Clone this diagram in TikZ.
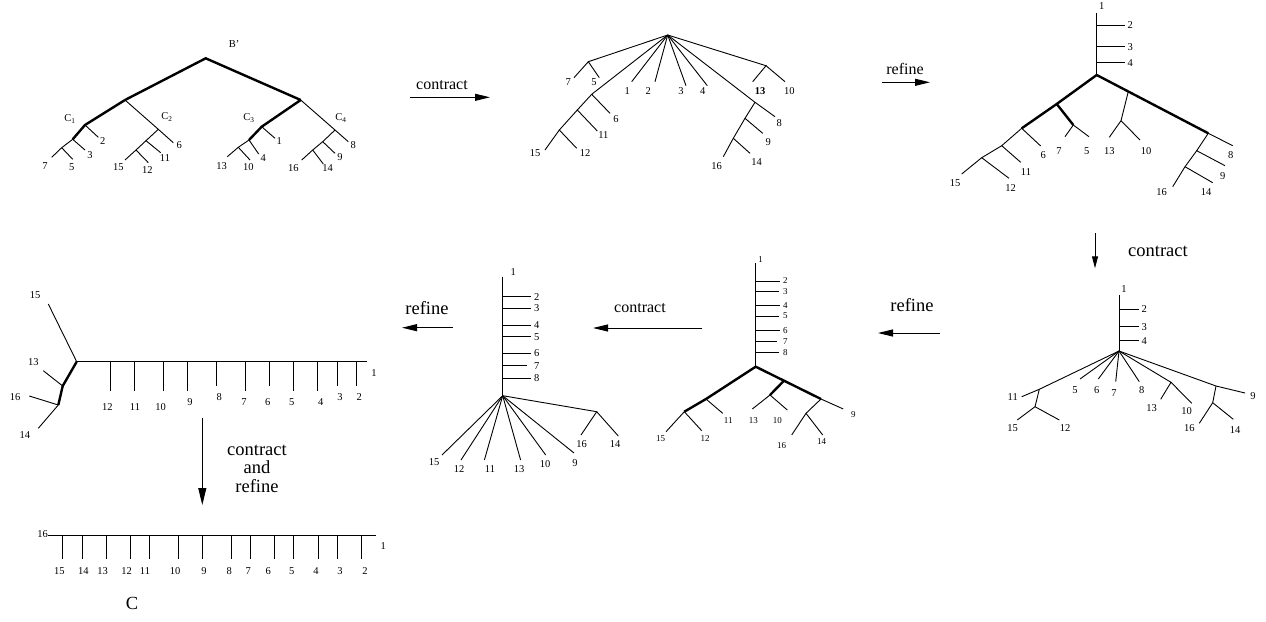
\documentclass[tikz,border=0pt]{standalone}
\usepackage{fontspec}
\setmainfont{Liberation Serif}
\usetikzlibrary{arrows.meta}

\begin{document}
\begin{tikzpicture}
[x=1pt,y=-1pt
,le/.style={line width=0.9pt}
,he/.style={line width=2.4pt}
,lab/.style={inner sep=0pt,font=\fontsize{10.5}{12}\selectfont}
,slab/.style={lab,font=\fontsize{9}{11}\selectfont}
,op/.style={line width=1pt,arrows={-Triangle[length=15pt,width=7pt]}}
,opt/.style={inner sep=0pt,font=\fontsize{16}{19}\selectfont}
,bopt/.style={opt,font=\fontsize{18.5}{19}\selectfont}
]
\useasboundingbox (0,0) rectangle (1266,621);

% tree B'
\coordinate (b0) at (205.7,58.3);
\coordinate (b1) at (125,100);
\coordinate (b2) at (300.7,100);
\coordinate (bc1) at (85,125);
\coordinate (bc2) at (158.3,129.3);
\coordinate (bc3) at (261.7,126.7);
\coordinate (bc4) at (335,130);
\coordinate (b3) at (72.7,139.3);
\coordinate (b4) at (61.7,147.7);
\coordinate (b5) at (146,140.7);
\coordinate (b6) at (136,150);
\coordinate (b7) at (249,140);
\coordinate (b8) at (238.3,147.3);
\coordinate (b9) at (322.7,141.7);
\coordinate (b10) at (312.7,150);
\coordinate (be1) at (275,138.3);
\coordinate (be2) at (98.3,137.3);
\coordinate (be3) at (85,150);
\coordinate (be4) at (258.7,154);
\coordinate (be5) at (72.7,159.3);
\coordinate (be6) at (173.3,142.7);
\coordinate (be7) at (51.7,157.3);
\coordinate (be8) at (348.3,141.7);
\coordinate (be9) at (335,153.3);
\coordinate (be10) at (250,160);
\coordinate (be11) at (160.7,152.7);
\coordinate (be12) at (148.3,162.7);
\coordinate (be13) at (227.3,156.7);
\coordinate (be14) at (323.3,164);
\coordinate (be15) at (125,160);
\coordinate (be16) at (301.7,160);
\node[lab] (bb) at (234,44) {B'};
\node[lab] (bn1) at (70,119) {C\textsubscript{1}};
\node[lab] (bn2) at (167,117) {C\textsubscript{2}};
\node[lab] (bn3) at (249,118) {C\textsubscript{3}};
\node[lab] (bn4) at (341,118) {C\textsubscript{4}};
\node[lab] (bl1) at (279.3,140.7) {1};
\node[lab] (bl2) at (102.7,140.7) {2};
\node[lab] (bl3) at (90,155) {3};
\node[lab] (bl4) at (263.3,157.7) {4};
\node[lab] (bl5) at (71.7,166.7) {5};
\node[lab] (bl6) at (179.3,145) {6};
\node[lab] (bl7) at (45,166) {7};
\node[lab] (bl8) at (353.3,145) {8};
\node[lab] (bl9) at (340,157.3) {9};
\node[lab] (bl10) at (248.3,167.3) {10};
\node[lab] (bl11) at (165,157.7) {11};
\node[lab] (bl12) at (147.3,170) {12};
\node[lab] (bl13) at (221.7,166) {13};
\node[lab] (bl14) at (327.7,168.3) {14};
\node[lab] (bl15) at (118.3,167.3) {15};
\node[lab] (bl16) at (293.3,168.3) {16};

\draw[he] (b1) -- (b0) -- (b2);
\draw[he] (b1) -- (bc1) -- (b3);
\draw[he] (b2) -- (bc3) -- (b7);
\draw[le] (b1) -- (bc2) -- (be6);
\draw[le] (b2) -- (bc4) -- (be8);
\draw[le] (bc1) -- (be2);
\draw[le] (b3) -- (be3);
\draw[le] (b3) -- (b4) -- (be7);
\draw[le] (b4) -- (be5);
\draw[le] (bc2) -- (b5) -- (be11);
\draw[le] (b5) -- (b6) -- (be15);
\draw[le] (b6) -- (be12);
\draw[le] (bc3) -- (be1);
\draw[le] (b7) -- (be4);
\draw[le] (b7) -- (b8) -- (be13);
\draw[le] (b8) -- (be10);
\draw[le] (bc4) -- (b9) -- (be9);
\draw[le] (b9) -- (b10) -- (be16);
\draw[le] (b10) -- (be14);

% contract
\coordinate (oa1) at (410,97.3);
\coordinate (ob1) at (490,97.3);
\draw[op] (oa1) -- (ob1);
\node[opt] (ot1) at (442,85) {contract};

% tree after contract
\coordinate (r0) at (667.7,35);
\coordinate (r1) at (588.3,61.7);
\coordinate (r2) at (591.7,94.3);
\coordinate (r3) at (577.3,110);
\coordinate (r4) at (559.3,130);
\coordinate (r5) at (766,65.7);
\coordinate (r6) at (755,102.3);
\coordinate (r7) at (745,118.3);
\coordinate (r8) at (733.3,138.3);
\coordinate (re1) at (631.7,81.7);
\coordinate (re2) at (655,81.7);
\coordinate (re3) at (686,85.7);
\coordinate (re4) at (707.3,85.7);
\coordinate (re5) at (599.3,77.7);
\coordinate (re6) at (610,113.3);
\coordinate (re7) at (574,77.7);
\coordinate (re8) at (775,116.7);
\coordinate (re9) at (762.7,133.3);
\coordinate (re10) at (785,81.7);
\coordinate (re11) at (597.3,131);
\coordinate (re12) at (576.7,148.3);
\coordinate (re13) at (752.7,81.7);
\coordinate (re14) at (750,153.3);
\coordinate (re15) at (545,150);
\coordinate (re16) at (723.3,156.7);
\node[lab] (rl1) at (627.3,91) {1};
\node[lab] (rl2) at (648.3,91) {2};
\node[lab] (rl3) at (681,91) {3};
\node[lab] (rl4) at (702.7,91) {4};
\node[lab] (rl5) at (594,82.3) {5};
\node[lab] (rl6) at (616,119) {6};
\node[lab] (rl7) at (568.3,82.3) {7};
\node[lab] (rl8) at (779.3,123.3) {8};
\node[lab] (rl9) at (768.3,142.3) {9};
\node[lab] (rl10) at (789.3,91) {10};
\node[lab] (rl11) at (603.3,135) {11};
\node[lab] (rl12) at (585,153.3) {12};
\node[lab,font=\fontsize{10.5}{12}\selectfont\bfseries] (rl13) at (760,91) {13};
\node[lab] (rl14) at (756.7,161.7) {14};
\node[lab] (rl15) at (535,153.3) {15};
\node[lab] (rl16) at (716.7,165.7) {16};

\draw[le] (r0) -- (r1) -- (re7);
\draw[le] (r1) -- (re5);
\draw[le] (r0) -- (r2) -- (re6);
\draw[le] (r2) -- (r3) -- (re11);
\draw[le] (r3) -- (r4) -- (re15);
\draw[le] (r4) -- (re12);
\draw[le] (r0) -- (re1);
\draw[le] (r0) -- (re2);
\draw[le] (r0) -- (re3);
\draw[le] (r0) -- (re4);
\draw[le] (r0) -- (r5) -- (re13);
\draw[le] (r5) -- (re10);
\draw[le] (r0) -- (r6) -- (re8);
\draw[le] (r6) -- (r7) -- (re9);
\draw[le] (r7) -- (r8) -- (re16);
\draw[le] (r8) -- (re14);

% refine
\coordinate (oa2) at (881.7,82.3);
\coordinate (ob2) at (930,82.3);
\draw[op] (oa2) -- (ob2);
\node[opt] (ot2) at (905,69) {refine};

% tree after refine
\coordinate (k1) at (1096.7,13.3);
\coordinate (k0) at (1096.7,75);
\node[lab] (kl1) at (1101.7,6) {1};
\draw[le] (k1) -- (k0);
\foreach \n/\y in {2/25,3/46.7,4/62.7} {
  \coordinate (ka\n) at (1096.7,\y);
  \coordinate (kb\n) at (1125,\y);
  \draw[le] (ka\n) -- (kb\n);
  \node[lab,anchor=west] (kl\n) at (1127.5,\y) {\n};
}
\coordinate (ka) at (1056.7,104);
\coordinate (kb) at (1021.7,128.3);
\coordinate (kc) at (1073.3,125);
\coordinate (kd) at (1001.7,145.7);
\coordinate (kf) at (981.7,157.7);
\coordinate (kg) at (1128.3,91.5);
\coordinate (kh) at (1121,120.7);
\coordinate (kF) at (1208.3,133.3);
\coordinate (kH) at (1196.7,150.7);
\coordinate (kI) at (1185,166.7);
\coordinate (ke5) at (1089,136.7);
\coordinate (ke6) at (1040.7,146);
\coordinate (ke7) at (1065,136.7);
\coordinate (ke8) at (1232.7,145.7);
\coordinate (ke9) at (1225,165.7);
\coordinate (ke10) at (1140,140);
\coordinate (ke11) at (1020.7,162.3);
\coordinate (ke12) at (1009,178.3);
\coordinate (ke13) at (1109.3,137.3);
\coordinate (ke14) at (1212.7,182.7);
\coordinate (ke15) at (961.7,174);
\coordinate (ke16) at (1172.7,186.7);
\node[lab] (kl5) at (1086.7,150.7) {5};
\node[lab] (kl6) at (1043.3,155) {6};
\node[lab] (kl7) at (1059,150.7) {7};
\node[lab] (kl8) at (1230.7,155) {8};
\node[lab] (kl9) at (1222.7,175.7) {9};
\node[lab] (kl10) at (1146,150.7) {10};
\node[lab] (kl11) at (1026,171.7) {11};
\node[lab] (kl12) at (1010.7,188.3) {12};
\node[lab] (kl13) at (1109.3,150.7) {13};
\node[lab] (kl14) at (1206,192.3) {14};
\node[lab] (kl15) at (955,183.3) {15};
\node[lab] (kl16) at (1161.7,192.3) {16};

\draw[he] (k0) -- (ka) -- (kb);
\draw[he] (ka) -- (kc);
\draw[he] (k0) -- (kF);
\draw[le] (kc) -- (ke7);
\draw[le] (kc) -- (ke5);
\draw[le] (kb) -- (ke6);
\draw[le] (kb) -- (kd) -- (ke11);
\draw[le] (kd) -- (kf) -- (ke15);
\draw[le] (kf) -- (ke12);
\draw[le] (kg) -- (kh) -- (ke13);
\draw[le] (kh) -- (ke10);
\draw[le] (kF) -- (ke8);
\draw[le] (kF) -- (kH) -- (ke9);
\draw[le] (kH) -- (kI) -- (ke16);
\draw[le] (kI) -- (ke14);

% contract
\coordinate (oa3) at (1095,233);
\coordinate (ob3) at (1095,268.3);
\draw[op,arrows={-Triangle[length=12pt,width=6pt]}] (oa3) -- (ob3);
\node[bopt] (ot3) at (1158,251) {contract};

% tree after contract
\coordinate (q1) at (1119,295);
\coordinate (q0) at (1119,351);
\node[lab] (ql1) at (1124,289.3) {1};
\draw[le] (q1) -- (q0);
\foreach \n/\y in {2/309.3,3/326.7,4/340.7} {
  \coordinate (qa\n) at (1119,\y);
  \coordinate (qb\n) at (1139,\y);
  \draw[le] (qa\n) -- (qb\n);
  \node[lab,anchor=west] (ql\n) at (1141.5,\y) {\n};
}
\coordinate (qa) at (1039.3,389.3);
\coordinate (qb) at (1035,406.7);
\coordinate (qc) at (1171,382.3);
\coordinate (qd) at (1216,386);
\coordinate (qf) at (1212.7,402.7);
\coordinate (qe5) at (1080,379);
\coordinate (qe6) at (1098.3,379);
\coordinate (qe7) at (1115.7,381.7);
\coordinate (qe8) at (1139.3,381.7);
\coordinate (qe9) at (1245,393);
\coordinate (qe10) at (1191.7,403.3);
\coordinate (qe11) at (1021.7,396.7);
\coordinate (qe12) at (1059.3,420);
\coordinate (qe13) at (1160.7,399.3);
\coordinate (qe14) at (1233.3,419.3);
\coordinate (qe15) at (1017.3,420);
\coordinate (qe16) at (1199.3,423.3);
\node[lab] (ql5) at (1075,390) {5};
\node[lab] (ql6) at (1096.7,390) {6};
\node[lab] (ql7) at (1114,393.3) {7};
\node[lab] (ql8) at (1141.7,390) {8};
\node[lab] (ql9) at (1253,396) {9};
\node[lab] (ql10) at (1186.7,411) {10};
\node[lab] (ql11) at (1012.7,397.3) {11};
\node[lab] (ql12) at (1065,427.7) {12};
\node[lab] (ql13) at (1151.7,408.3) {13};
\node[lab] (ql14) at (1235,430) {14};
\node[lab] (ql15) at (1012.7,427.7) {15};
\node[lab] (ql16) at (1189.3,428.3) {16};

\draw[le] (q0) -- (qa) -- (qe11);
\draw[le] (qa) -- (qb) -- (qe15);
\draw[le] (qb) -- (qe12);
\draw[le] (q0) -- (qe5);
\draw[le] (q0) -- (qe6);
\draw[le] (q0) -- (qe7);
\draw[le] (q0) -- (qe8);
\draw[le] (q0) -- (qc) -- (qe13);
\draw[le] (qc) -- (qe10);
\draw[le] (q0) -- (qd) -- (qe9);
\draw[le] (qd) -- (qf) -- (qe16);
\draw[le] (qf) -- (qe14);

% refine
\coordinate (oa4) at (940,333);
\coordinate (ob4) at (878,333);
\draw[op] (oa4) -- (ob4);
\node[bopt] (ot4) at (912,305) {refine};

% tree after refine
\coordinate (p1) at (755.7,263.3);
\coordinate (p0) at (755.7,366.7);
\node[slab] (pl1) at (760.7,260) {1};
\draw[le] (p1) -- (p0);
\foreach \n/\y/\x in {2/281/780,3/291.7/779.3,4/305.7/780,5/316/779.3,6/330.7/780,7/341.7/776.7,8/352.3/779.3} {
  \coordinate (pa\n) at (755.7,\y);
  \coordinate (pb\n) at (\x,\y);
  \draw[le] (pa\n) -- (pb\n);
  \node[slab,anchor=west] (pl\n) at (783,\y) {\n};
}
\coordinate (pa) at (706,399);
\coordinate (pb) at (684.3,411.7);
\coordinate (pc) at (821,399);
\coordinate (pd) at (770,395);
\coordinate (pf) at (806,413.3);
\coordinate (pg) at (784,380.7);
\coordinate (pe9) at (843.3,409);
\coordinate (pe10) at (787.3,410);
\coordinate (pe11) at (722.7,413.3);
\coordinate (pe12) at (701.7,430.7);
\coordinate (pe13) at (752.3,409);
\coordinate (pe14) at (822.7,435);
\coordinate (pe15) at (666,431.7);
\coordinate (pe16) at (791.7,435);
\node[slab] (pl9) at (853.3,414.3) {9};
\node[slab] (pl10) at (777.3,420.7) {10};
\node[slab] (pl11) at (728.3,420.7) {11};
\node[slab] (pl12) at (705,439) {12};
\node[slab] (pl13) at (753.3,420.7) {13};
\node[slab] (pl14) at (821.7,441.7) {14};
\node[slab] (pl15) at (660.7,439) {15};
\node[slab] (pl16) at (781.7,445.7) {16};

\draw[he] (p0) -- (pa) -- (pb);
\draw[he] (p0) -- (pc);
\draw[he] (pg) -- (pd);
\draw[le] (pa) -- (pe11);
\draw[le] (pb) -- (pe15);
\draw[le] (pb) -- (pe12);
\draw[le] (pd) -- (pe13);
\draw[le] (pd) -- (pe10);
\draw[le] (pc) -- (pe9);
\draw[le] (pc) -- (pf) -- (pe16);
\draw[le] (pf) -- (pe14);

% contract
\coordinate (oa5) at (702,328);
\coordinate (ob5) at (593,328);
\draw[op] (oa5) -- (ob5);
\node[opt] (ot5) at (640,308) {contract};

% tree after contract
\coordinate (s1) at (502.7,276.7);
\coordinate (s0) at (502.7,395.7);
\node[lab] (sl1) at (513.3,271.7) {1};
\draw[le] (s1) -- (s0);
\foreach \n/\y/\x in {2/296.7/530.7,3/308.3/530.7,4/325/530.7,5/336.7/530.7,6/353.3/530.7,7/365.7/527.3,8/378.3/530.7} {
  \coordinate (sa\n) at (502.7,\y);
  \coordinate (sb\n) at (\x,\y);
  \draw[le] (sa\n) -- (sb\n);
  \node[lab,anchor=west] (sl\n) at (534,\y) {\n};
}
\coordinate (sa) at (596.7,411.7);
\coordinate (se9) at (574,453);
\coordinate (se10) at (545.7,455);
\coordinate (se11) at (484.4,460);
\coordinate (se12) at (461,460);
\coordinate (se13) at (520.6,460);
\coordinate (se14) at (618.3,436);
\coordinate (se15) at (442,455);
\coordinate (se16) at (581,435);
\node[lab] (sl9) at (575,463) {9};
\node[lab] (sl10) at (545,464) {10};
\node[lab] (sl11) at (490,469) {11};
\node[lab] (sl12) at (459,469) {12};
\node[lab] (sl13) at (519,469) {13};
\node[lab] (sl14) at (615,444.3) {14};
\node[lab] (sl15) at (434,462) {15};
\node[lab] (sl16) at (581.7,444.3) {16};

\draw[le] (s0) -- (sa) -- (se16);
\draw[le] (sa) -- (se14);
\draw[le] (s0) -- (se15);
\draw[le] (s0) -- (se12);
\draw[le] (s0) -- (se11);
\draw[le] (s0) -- (se13);
\draw[le] (s0) -- (se10);
\draw[le] (s0) -- (se9);

% refine
\coordinate (oa6) at (452.7,327.7);
\coordinate (ob6) at (402,327.7);
\draw[op] (oa6) -- (ob6);
\node[bopt] (ot6) at (427,308) {refine};

% tree after refine
\coordinate (t0) at (76.7,361.7);
\coordinate (t1) at (366.7,361.7);
\coordinate (ta) at (62.7,386);
\coordinate (tb) at (58.3,405);
\coordinate (te13) at (43.3,370.7);
\coordinate (te14) at (38.3,428.3);
\coordinate (te15) at (48.3,304);
\coordinate (te16) at (29.3,396);
\node[lab] (tl1) at (374,373.3) {1};
\node[lab] (tl13) at (33.3,361.7) {13};
\node[lab] (tl14) at (25,435) {14};
\node[lab] (tl15) at (35,295) {15};
\node[lab] (tl16) at (15,397.3) {16};
\draw[le] (t0) -- (t1);
\draw[le] (t0) -- (te15);
\draw[he] (t0) -- (ta) -- (tb);
\draw[le] (ta) -- (te13);
\draw[le] (tb) -- (te16);
\draw[le] (tb) -- (te14);
\foreach \n/\x/\y/\lx/\ly in {12/110.7/390.7/107.3/406.7,11/134.3/390.7/135/406.7,10/163.3/390.7/160.7/406.7,9/187.7/390.7/190/401.7,8/216.7/386/219.3/397.3,7/245.7/390.7/244/401.7,6/269.3/386/267.7/401.7,5/293.3/390.7/291.7/401.7,4/317.7/390.7/320.7/401.7,3/337.3/386/340/397.3,2/356.7/386/359.3/397.3} {
  \coordinate (ta\n) at (\x,361.7);
  \coordinate (tb\n) at (\x,\y);
  \draw[le] (ta\n) -- (tb\n);
  \node[lab] (tl\n) at (\lx,\ly) {\n};
}

% contract and refine
\coordinate (oa7) at (202.3,418);
\coordinate (ob7) at (202.3,505);
\draw[op,arrows={-Triangle[length=17pt,width=8pt]}] (oa7) -- (ob7);
\node[bopt,align=center] (ot7) at (257,469) {contract\\[-1.5pt]and\\refine};

% caterpillar C
\coordinate (u0) at (48.3,535.7);
\coordinate (u1) at (376,535.7);
\node[lab,anchor=south east] (ul16) at (48,538) {16};
\node[lab] (ul1) at (383.3,546) {1};
\draw[le] (u0) -- (u1);
\foreach \n/\x/\lx in {15/62.7/59.3,14/82/83.3,13/106/102.7,12/130/126.7,11/149/145,10/178.3/175,9/202.3/204,8/231/229.3,7/250.7/248.3,6/274.3/268.3,5/293.7/291.7,4/318.3/316,3/337.7/340,2/361.7/365} {
  \coordinate (ua\n) at (\x,535.7);
  \coordinate (ub\n) at (\x,559.3);
  \draw[le] (ua\n) -- (ub\n);
  \node[lab] (ul\n) at (\lx,570.7) {\n};
}
\node[bopt] (uc) at (132,603) {C};
\end{tikzpicture}
\end{document}
